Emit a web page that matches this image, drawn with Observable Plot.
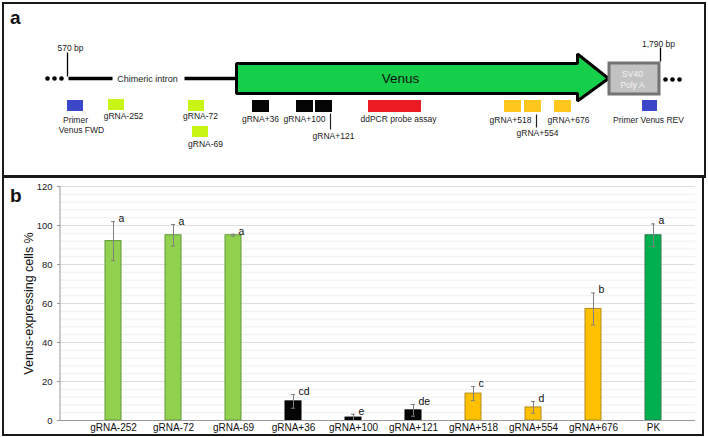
<!DOCTYPE html>
<html><head><meta charset="utf-8">
<script src="https://cdn.jsdelivr.net/npm/d3@7"></script>
<script src="https://cdn.jsdelivr.net/npm/@observablehq/plot@0.6"></script>
<style>
body{margin:0;background:#fff;}
#fig{position:relative;width:708px;height:437px;overflow:hidden;font-family:"Liberation Sans",Arial,sans-serif;}
.panel{position:absolute;border:2px solid #1a1a1a;box-sizing:border-box;}
#fig svg{position:absolute;left:0;}
.tag{position:absolute;font:bold 19px "Liberation Sans",Arial,sans-serif;color:#111;line-height:1;}
</style></head><body><div id="fig"></div>
<script>
// ---------- Panel b data ----------
const categories = ["gRNA-252","gRNA-72","gRNA-69","gRNA+36","gRNA+100","gRNA+121","gRNA+518","gRNA+554","gRNA+676","PK"];
const values = [92, 95, 95, 9.8, 1.5, 5.2, 13.8, 6.7, 57.2, 95];
const errors = [10, 5.5, 0.5, 3.5, 1.7, 3.0, 3.6, 3.0, 8.2, 5.8];
const letters = ["a","a","a","cd","e","de","c","d","b","a"];
const groups = ["upstream","upstream","upstream","early","early","early","late","late","late","control"];
const yTicks = [0, 20, 40, 60, 80, 100, 120];
const yLabel = "Venus-expressing cells %";

// ---------- Panel a (schematic) data ----------
const featureNames = ["Primer Venus FWD","gRNA-252","gRNA-72","gRNA-69","gRNA+36","gRNA+100","gRNA+121","ddPCR probe assay","gRNA+518","gRNA+554","gRNA+676","Primer Venus REV"];
const featureKind = ["primer","up","up","up","early","early","early","probe","late","late","late","primer"];
const featureX1 = [67, 108, 188, 192, 252, 296, 315, 368, 504, 524, 554, 642];
const featureX2 = [83, 124, 204, 208, 269, 313, 332, 421, 521, 541, 571, 657];
const featureY1 = [100, 99, 100, 126, 100, 100, 100, 100, 100, 100, 100, 100];
const featureY2 = [111, 110, 111, 137, 112, 112, 112, 112, 112, 112, 112, 111];
const labelTexts = ["Primer","Venus FWD","gRNA-252","gRNA-72","gRNA-69","gRNA+36","gRNA+100","gRNA+121","ddPCR probe assay","gRNA+518","gRNA+554","gRNA+676","Primer Venus REV"];
const labelX = [75, 81, 123, 200, 205, 260, 304, 333, 398, 510, 537, 568, 648];
const labelY = [119.5, 129.5, 116, 116, 143.5, 118.5, 118.5, 136, 119, 119.5, 133, 119.5, 119.5];
const leaderX = [330, 536];
const leaderY1 = [113, 114];
const leaderY2 = [129, 127];
const intronX1 = [68, 184];
const intronX2 = [112, 236];
const ellipsisX = [47, 54, 61, 665, 672, 679];
const bpLabels = ["570 bp", "1,790 bp"];
const bpX = [67, 660];
const bpLabelX = [70, 658];
const bpLabelY = [48, 43.5];
const bpTickY1 = [52, 47];
const bpTickY2 = [76, 61];
const venusArrow = [[236,63],[577,63],[577,53.5],[608,78],[577,100.5],[577,93],[236,93]];
const polyA = {x1: 609, x2: 659, y1: 63, y2: 94};

const FONT = "'Liberation Sans', Arial, sans-serif";
const fig = document.getElementById("fig");

// borders & panel tags
fig.insertAdjacentHTML("beforeend",
  `<div class="panel" style="left:2px;top:2px;width:704px;height:176px"></div>
   <div class="panel" style="left:2px;top:175px;width:702px;height:261px"></div>`);

const kindColor = {primer:"#3c46c9", up:"#c8f514", early:"#050505", probe:"#ec1c24", late:"#ffc71e"};

const feats = featureNames.map((n,i)=>({n, k:featureKind[i], x1:featureX1[i], x2:featureX2[i], y1:featureY1[i], y2:featureY2[i]}));
const labs = labelTexts.map((t,i)=>({t, x:labelX[i], y:labelY[i]}));

const schematic = Plot.plot({
  width: 708, height: 177, margin: 0,
  x: {domain:[0,708], range:[0,708], axis:null},
  y: {domain:[0,177], range:[0,177], axis:null},
  style: {fontFamily: FONT, background:"transparent"},
  marks: [
    Plot.link(intronX1, {x1: d=>d, x2:(d,i)=>intronX2[i], y1: 78, y2: 78, stroke:"#000", strokeWidth:3.5}),
    Plot.dot(ellipsisX, {x: d=>d, y: (d,i)=> i<3 ? 78 : 79, r: 2.3, fill:"#000", stroke:null}),
    Plot.link(bpX, {x1:d=>d, x2:d=>d, y1:(d,i)=>bpTickY1[i], y2:(d,i)=>bpTickY2[i], stroke:"#000", strokeWidth:1.3}),
    Plot.text(bpLabels, {x:(d,i)=>bpLabelX[i], y:(d,i)=>bpLabelY[i], text:d=>d, fontSize:8.5, fill:"#222"}),
    Plot.text(["Chimeric intron"], {x: 147, y: 79, text:d=>d, fontSize:9, fill:"#222"}),
    Plot.line(venusArrow, {x:d=>d[0], y:d=>d[1], curve:"linear-closed", fill:"#15cf4b", stroke:"#000", strokeWidth:3, strokeLinejoin:"miter"}),
    Plot.text(["Venus"], {x: 400, y: 78, text:d=>d, fontSize:13.5, fill:"#111"}),
    Plot.rect([polyA], {x1:"x1", x2:"x2", y1:"y1", y2:"y2", fill:"#c2c2c2", stroke:"#737373", strokeWidth:3}),
    Plot.text(["SV40","Poly A"], {x: 632, y:(d,i)=> i ? 85 : 73.5, text:d=>d, fontSize:8.5, fill:"#f4f4f4"}),
    Plot.rect(feats, {x1:"x1", x2:"x2", y1:"y1", y2:"y2", fill:d=>kindColor[d.k]}),
    Plot.link(leaderX, {x1:d=>d, x2:d=>d, y1:(d,i)=>leaderY1[i], y2:(d,i)=>leaderY2[i], stroke:"#222", strokeWidth:1.2}),
    Plot.text(labs, {x:"x", y:"y", text:"t", fontSize:8.5, fill:"#222"})
  ]
});
schematic.style.top = "0px";
fig.appendChild(schematic);

// ---------- Panel b ----------
const groupFill = {upstream:"#92d050", early:"#050505", late:"#ffc000", control:"#00b050"};
const groupStroke = {upstream:"#5e9a34", early:"#000", late:"#b08c1c", control:"#2f7a4c"};
const bars = categories.map((c,i)=>({c, v:values[i], e:errors[i], l:letters[i], g:groups[i]}));
const minor = d3.range(0, 121, 4).filter(v => v % 20 !== 0);

const chart = Plot.plot({
  width: 708, height: 260,
  marginTop: 9, marginBottom: 17, marginLeft: 60, marginRight: 13,
  x: {domain: categories, paddingInner: 0.736, paddingOuter: 0.5, insetLeft: 11.5, insetRight: 1},
  y: {domain: [0, 120]},
  style: {fontFamily: FONT, background:"transparent"},
  marks: [
    Plot.ruleY(minor, {stroke:"#efefef", strokeWidth:1}),
    Plot.ruleY(yTicks.slice(1), {stroke:"#dedede", strokeWidth:1}),
    Plot.barY(bars, {x:"c", y:"v", fill:d=>groupFill[d.g], stroke:d=>groupStroke[d.g], strokeWidth:1}),
    Plot.ruleX(bars, {x:"c", y1:d=>Math.max(0,d.v-d.e), y2:d=>d.v+d.e, stroke:"#7f7f7f", strokeWidth:1}),
    Plot.tickY(bars, {x:"c", y:d=>d.v+d.e, stroke:"#7f7f7f", insetLeft:6, insetRight:6}),
    Plot.tickY(bars, {x:"c", y:d=>Math.max(0,d.v-d.e), stroke:"#7f7f7f", insetLeft:6, insetRight:6}),
    Plot.text(bars, {x:"c", y:d=>d.v+d.e, text:"l", dx:5, dy:-3, textAnchor:"start", fontSize:10.5, fill:"#111"}),
    Plot.axisX({tickSize:0, tickPadding:3, fontSize:10, label:null, color:"#111"}),
    Plot.axisY({ticks: yTicks, tickSize:3, tickPadding:5, fontSize:9.5, label:null, color:"#222", stroke:"#999"}),
    Plot.ruleY([0], {stroke:"#999"}),
    Plot.text([yLabel], {frameAnchor:"left", textAnchor:"middle", rotate:-90, dx:-32, text:d=>d, fontSize:12.5, fill:"#111"})
  ]
});
chart.style.top = "177px";
fig.appendChild(chart);

// y axis line
d3.select(chart).append("line").attr("x1",60).attr("x2",60).attr("y1",9).attr("y2",243).attr("stroke","#999");

fig.insertAdjacentHTML("beforeend",
  `<div class="tag" style="left:10px;top:8px">a</div>
   <div class="tag" style="left:10px;top:186px">b</div>`);
</script></body></html>
